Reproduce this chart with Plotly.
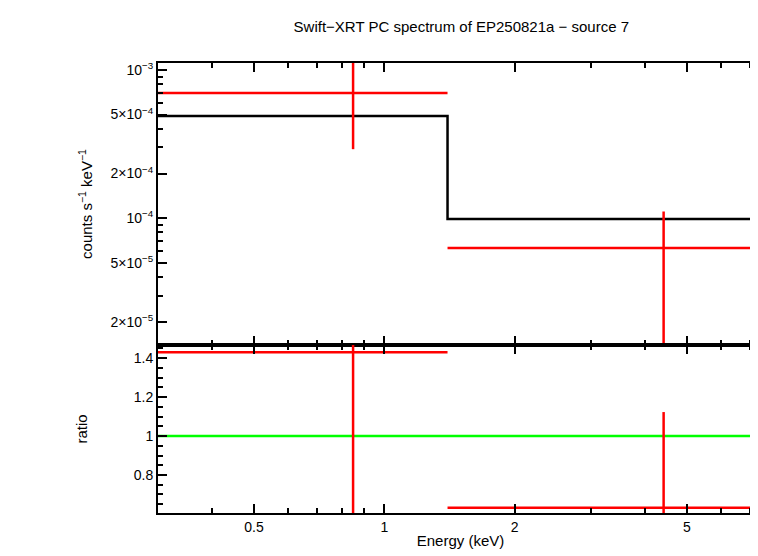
import plotly.graph_objects as go
import math

bin_lo = [0.3, 1.4]
bin_hi = [1.4, 7.5]
x_pts = [0.847, 4.42]
rate = [7.0e-4, 6.27e-5]
rate_up = [1.6e-3, 1.11e-4]
rate_lo = [2.92e-4, 1.0e-6]
model = [4.89e-4, 9.85e-5]
ratio = [1.43, 0.632]
ratio_up = [1.9, 1.123]
ratio_lo = [0.4, 0.4]

xticks = [0.5, 1, 2, 5]
xticklab = ["0.5", "1", "2", "5"]
xminor = [0.3, 0.4, 0.6, 0.7, 0.8, 0.9, 3, 4, 6, 7]
ytop_vals = [1e-3, 5e-4, 2e-4, 1e-4, 5e-5, 2e-5]
ytop_text = ["10<sup>−3</sup>", "5×10<sup>−4</sup>", "2×10<sup>−4</sup>", "10<sup>−4</sup>", "5×10<sup>−5</sup>", "2×10<sup>−5</sup>"]
ytop_minor = [3e-4, 4e-4, 6e-4, 7e-4, 8e-4, 9e-4, 3e-5, 4e-5, 6e-5, 7e-5, 8e-5, 9e-5]
ybot_vals = [0.8, 1, 1.2, 1.4]
ybot_text = ["0.8", "1", "1.2", "1.4"]

RED = "#ff0000"
fig = go.Figure()
ex_p = [h - x for h, x in zip(bin_hi, x_pts)]
ex_m = [x - l for l, x in zip(bin_lo, x_pts)]
fig.add_trace(go.Scatter(x=[bin_lo[0]] + bin_hi, y=[model[0], model[1], model[1]], mode="lines",
                         line=dict(color="black", width=2.5, shape="hv"), xaxis="x", yaxis="y"))
fig.add_trace(go.Scatter(x=x_pts, y=rate, mode="markers", marker=dict(size=1, color=RED),
    error_x=dict(type="data", symmetric=False, array=ex_p, arrayminus=ex_m, color=RED, thickness=2.5, width=0),
    error_y=dict(type="data", symmetric=False, array=[u - r for u, r in zip(rate_up, rate)],
                 arrayminus=[r - l for r, l in zip(rate, rate_lo)], color=RED, thickness=2.5, width=0),
    xaxis="x", yaxis="y"))
fig.add_trace(go.Scatter(x=[bin_lo[0], bin_hi[-1]], y=[1, 1], mode="lines", line=dict(color="#00ff00", width=2.5),
                         xaxis="x2", yaxis="y2"))
fig.add_trace(go.Scatter(x=x_pts, y=ratio, mode="markers", marker=dict(size=1, color=RED),
    error_x=dict(type="data", symmetric=False, array=ex_p, arrayminus=ex_m, color=RED, thickness=2.5, width=0),
    error_y=dict(type="data", symmetric=False, array=[u - r for u, r in zip(ratio_up, ratio)],
                 arrayminus=[r - l for r, l in zip(ratio, ratio_lo)], color=RED, thickness=2.5, width=0),
    xaxis="x2", yaxis="y2"))

ax = dict(showline=True, linecolor="black", linewidth=2, mirror="allticks", ticks="inside",
          ticklen=9, tickwidth=1.5, tickcolor="black", showgrid=False, zeroline=False)
xr = [0.3, 7.5]
lxr = [math.log10(v) for v in xr]
minor = dict(tickvals=xminor, ticks="inside", ticklen=5, tickcolor="black", showgrid=False)
fig.update_layout(
    width=758, height=556, plot_bgcolor="white", paper_bgcolor="white", showlegend=False,
    margin=dict(l=150, r=3, t=55, b=51, autoexpand=False),
    font=dict(family="Liberation Sans, Arial", size=14, color="black"),
    title=dict(text="Swift−XRT PC spectrum of EP250821a − source 7", x=0.598, xanchor="center", y=0.975, font=dict(size=15)),
    xaxis=dict(ax, type="log", range=lxr, domain=[0, 1], anchor="y", tickvals=xticks, showticklabels=False, minor=minor),
    yaxis=dict(ax, type="log", range=[math.log10(1.39e-5), math.log10(1.115e-3)], domain=[0.3733, 1],
               tickvals=ytop_vals, ticktext=ytop_text,
               minor=dict(tickvals=ytop_minor, ticks="inside", ticklen=5, tickcolor="black", showgrid=False),
               title=dict(text="counts s<sup>−1</sup> keV<sup>−1</sup>", standoff=14, font=dict(size=15))),
    xaxis2=dict(ax, type="log", range=lxr, domain=[0, 1], anchor="y2", tickvals=xticks, ticktext=xticklab, minor=minor,
                title=dict(text="Energy (keV)", standoff=2, font=dict(size=15))),
    yaxis2=dict(ax, range=[0.605, 1.467], domain=[0, 0.3733], anchor="x2", tickvals=ybot_vals, ticktext=ybot_text,
                minor=dict(dtick=0.05, ticks="inside", ticklen=5, tickcolor="black", showgrid=False),
                title=dict(text="ratio", standoff=42, font=dict(size=15))),
)
fig.write_html("out.html")
